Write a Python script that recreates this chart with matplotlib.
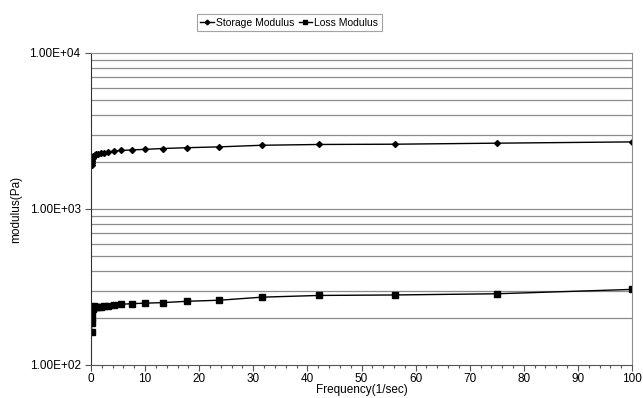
import matplotlib
matplotlib.use('Agg')
import matplotlib.pyplot as plt
from matplotlib.ticker import FixedLocator, MultipleLocator, NullFormatter

plt.rcParams['font.family'] = ['Liberation Sans', 'DejaVu Sans']

# frequency (1/sec)
freq = [0.1, 0.133, 0.178, 0.237, 0.316, 0.422, 0.562, 0.75, 1.0, 1.33, 1.78,
        2.37, 3.16, 4.22, 5.62, 7.5, 10.0, 13.3, 17.8, 23.7, 31.6, 42.2, 56.2,
        75.0, 100.0]
storage = [1910, 1980, 2030, 2080, 2130, 2170, 2200, 2220, 2240, 2260, 2280,
           2300, 2320, 2350, 2370, 2390, 2410, 2440, 2470, 2500, 2560, 2590,
           2600, 2640, 2690]
loss = [162, 186, 200, 218, 230, 235, 237, 236, 235, 235, 236,
        237, 239, 242, 245, 247, 249, 251, 256, 260, 272, 279,
        281, 286, 305]

fig = plt.figure(figsize=(6.43, 3.98), dpi=100)
ax = fig.add_axes([0.1415, 0.083, 0.8415, 0.784])

ax.plot(freq, storage, color='black', lw=1, marker='D', ms=3, label='Storage Modulus')
ax.plot(freq, loss, color='black', lw=1, marker='s', ms=4, label='Loss Modulus')

ax.set_yscale('log')
ax.set_ylim(100, 10000)
ax.set_xlim(0, 100)

# horizontal gridlines at every log step
grid_vals = [m * 10 ** e for e in (2, 3) for m in range(1, 10)] + [10000]
for g in grid_vals[1:-1]:
    ax.axhline(g, color='#8c8c8c', lw=0.9, zorder=0)

ax.yaxis.set_major_locator(FixedLocator([100, 1000, 10000]))
ax.yaxis.set_minor_locator(FixedLocator([]))
ax.set_yticklabels(['1.00E+02', '1.00E+03', '1.00E+04'])
ax.xaxis.set_major_locator(MultipleLocator(10))
ax.xaxis.set_minor_locator(MultipleLocator(2))
ax.xaxis.set_minor_formatter(NullFormatter())

ax.tick_params(axis='both', which='major', labelsize=8.5, direction='out', length=4, width=0.8, color='#555555')
ax.tick_params(axis='x', which='minor', direction='out', length=2.5, width=0.8, color='#555555')
ax.tick_params(axis='x', pad=2)

for side in ('top', 'right'):
    ax.spines[side].set_color('#8c8c8c')
ax.spines['left'].set_color('#333333')
ax.spines['bottom'].set_color('#555555')

ax.set_xlabel('Frequency(1/sec)', fontsize=8.5, labelpad=-1)
ax.set_ylabel('modulus(Pa)', fontsize=8.5, labelpad=5)

leg = fig.legend(loc='center', bbox_to_anchor=(0.45, 0.943), ncol=2, fontsize=7.5,
                 frameon=True, fancybox=False, edgecolor='#8c8c8c',
                 handlelength=1.3, handletextpad=0.2, columnspacing=0.4,
                 borderpad=0.35, markerscale=0.8)
leg.get_frame().set_linewidth(0.8)

fig.savefig('out.png', dpi=100)
